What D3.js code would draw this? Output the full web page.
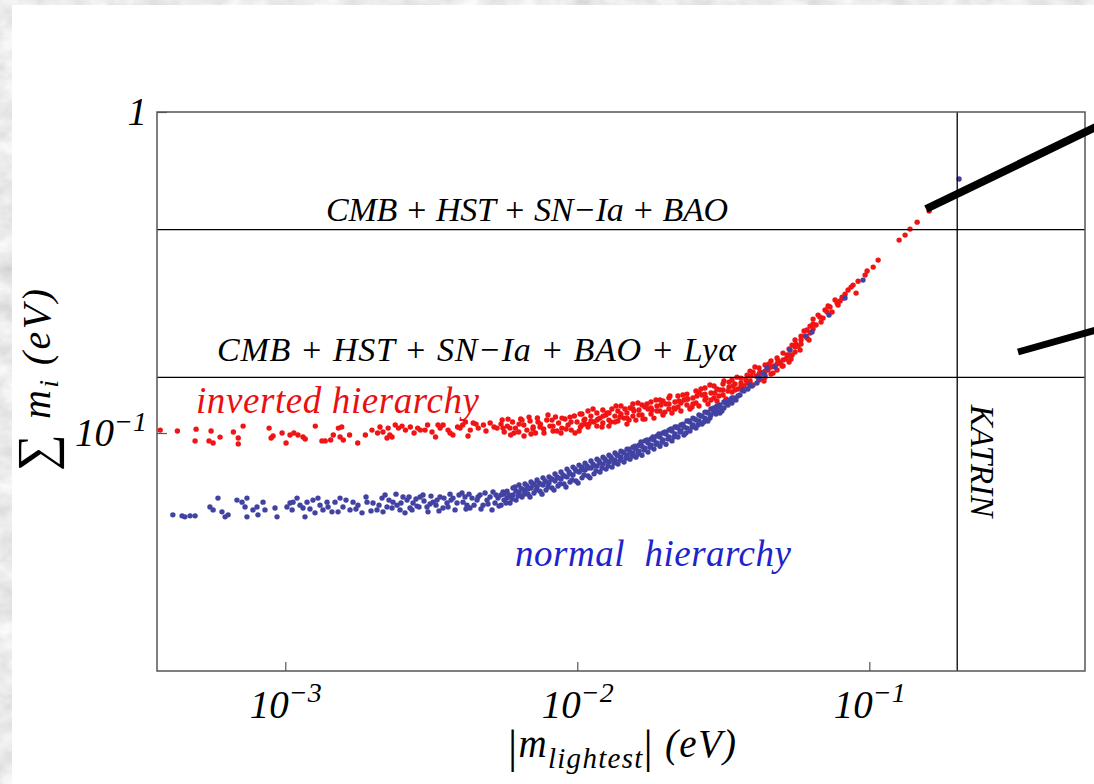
<!DOCTYPE html>
<html><head><meta charset="utf-8">
<script src="https://cdn.jsdelivr.net/npm/d3@7"></script>
<style>
html,body{margin:0;padding:0;background:#fff;overflow:hidden;}
svg{display:block;}
text{font-family:"Liberation Serif","Times New Roman",serif;font-style:italic;}
</style></head><body>
<svg id="chart" width="1094" height="784"></svg>
<script>
// ---------- data ----------
const xTicks = [1e-3, 1e-2, 1e-1];
const xTickLabels = [["10", "−3"], ["10", "−2"], ["10", "−1"]];
const yTicks = [0.1, 1];
const yTickLabels = [["10", "−1"], ["1", ""]];
const boundValues = [0.43, 0.149];
const boundLabels = ["CMB + HST + SN−Ia + BAO", "CMB + HST + SN−Ia + BAO + Lyα"];
const katrinBound = 0.2;
const katrinLabel = "KATRIN";
const seriesNames = ["inverted hierarchy", "normal  hierarchy"];

// inverted hierarchy: [m_lightest (eV), sum m_i (eV)]
const inverted = [
[0.000373,0.1021],[0.000427,0.1014],[0.000495,0.1028],[0.000491,0.0945],[0.000557,0.1014],[0.000548,0.0945],[0.000566,0.0931],[0.000598,0.0971],
[0.000664,0.1007],[0.00069,0.0965],[0.00069,0.0925],[0.000717,0.1051],[0.00088,0.1036],[0.000894,0.0965],[0.000908,0.0979],[0.000975,0.1],
[0.001006,0.0931],[0.001038,0.0986],[0.00107,0.1],[0.001105,0.0986],[0.00115,0.0972],[0.00117,0.0958],[0.001267,0.1051],[0.001335,0.0945],
[0.00137,0.0945],[0.00143,0.0951],[0.00146,0.0986],[0.00152,0.1036],[0.00156,0.1044],[0.00154,0.0972],[0.00158,0.0951],[0.00166,0.0986],
[0.00177,0.0931],[0.00188,0.0986],[0.00207,0.1],[0.00211,0.1044],[0.00216,0.1007],[0.00223,0.0965],[0.00228,0.0986],[0.00225,0.1036],
[0.00238,0.1059],[0.00244,0.1036],[0.00258,0.1021],[0.00268,0.1044],[0.00284,0.1036],[0.0029,0.1021],[0.00307,0.1059],[0.00318,0.1007],
[0.00327,0.0972],[0.00339,0.1036],[0.00347,0.1059],[0.00361,0.1021],[0.00375,0.0986],[0.00389,0.1044],[0.00405,0.1059],[0.00414,0.1082],
[0.0043,0.1021],[0.0044,0.1074],[0.00458,0.1036],[0.00477,0.1059],[0.00503,0.1074],[0.00531,0.1036],
[0.001981,0.1021],[0.00232,0.0972],[0.00251,0.1051],[0.00276,0.1],[0.00301,0.1021],[0.003334,0.1059],[0.003665,0.1],[0.003966,0.1036],
[0.004224,0.0979],[0.004499,0.1066],[0.004868,0.1014],[0.005186,0.1044],
[0.00553,0.1098],[0.00562,0.1007],[0.00576,0.1051],[0.00591,0.0986],[0.006,0.1082],[0.00614,0.1036],[0.0063,0.1007],[0.0064,0.1106],
[0.00656,0.1059],[0.00672,0.1021],[0.00689,0.109],[0.00706,0.1044],[0.00719,0.1],[0.0073,0.1114],[0.00748,0.1066],[0.00767,0.1029],
[0.00786,0.1098],[0.00806,0.1051],[0.00826,0.1014],[0.00842,0.1122],[0.00863,0.1074],[0.00885,0.1036],[0.00907,0.1106],[0.0093,0.1059],
[0.00953,0.1021],[0.00977,0.113],[0.00998,0.1082],[0.01025,0.1044],
[0.005567,0.1036],[0.00579,0.1105],[0.006071,0.1],[0.006315,0.1066],[0.006569,0.0979],[0.006833,0.1121],[0.007052,0.1029],[0.007335,0.1082],
[0.00769,0.1],[0.007937,0.1138],[0.008256,0.1051],[0.00852,0.1014],[0.008862,0.1113],[0.009146,0.1029],[0.009516,0.1082],[0.00982,0.1],
[0.00548,0.1066],[0.005883,0.1036],[0.006466,0.1097],[0.006942,0.0993],[0.007452,0.1044],[0.008191,0.1097],[0.008793,0.1],[0.009441,0.1121],
[0.01014,0.1014],
[0.01037,0.1059],[0.01037,0.1146],[0.01062,0.1105],[0.01088,0.1044],[0.01088,0.1171],[0.01113,0.1129],[0.0114,0.1082],[0.01167,0.1154],
[0.01167,0.1051],[0.01195,0.1113],[0.01223,0.1179],[0.01223,0.1074],[0.01253,0.1138],[0.01283,0.1097],[0.01283,0.1051],[0.01314,0.1188],
[0.01345,0.1129],[0.01377,0.109],[0.01377,0.1171],[0.01411,0.1214],[0.01445,0.1113],[0.01479,0.1154],[0.01479,0.1066],[0.01515,0.1197],
[0.0155,0.1129],[0.0155,0.1231],[0.01587,0.1097],[0.01626,0.1179],[0.01665,0.1222],[0.01665,0.1138],[0.01705,0.1105],[0.01746,0.1188],
[0.01788,0.1249],[0.01788,0.1146],[0.0183,0.1113],[0.01874,0.1214],[0.01919,0.1171],[0.01919,0.1267],[0.01965,0.1138],[0.02012,0.1231],
[0.0206,0.1188],[0.0206,0.1285],[0.02109,0.1154],[0.0216,0.1249],[0.02212,0.1205],[0.02212,0.1304],[0.02264,0.1171],[0.02319,0.1267],
[0.02374,0.1222],[0.02374,0.1322],[0.02431,0.1188],[0.02489,0.1285],[0.02549,0.1351],[0.02549,0.124],[0.0261,0.1214],[0.02673,0.1313],
[0.02737,0.1381],[0.02737,0.1267],[0.02803,0.1231],[0.0287,0.1332],[0.02939,0.1401],[0.02939,0.1285],[0.03009,0.1258],[0.03081,0.1361],
[0.03155,0.1421],[0.03155,0.1313],[0.0323,0.1276],[0.03308,0.1391],[0.03387,0.1462],[0.03387,0.1342],[0.03468,0.1421],[0.03551,0.1371],
[0.03636,0.1482],[0.03636,0.1431],[0.03723,0.1401],[0.03813,0.1515],[0.03904,0.1452],[0.03904,0.1559],[0.03997,0.1411],[0.04093,0.1504],
[0.04191,0.1594],[0.04191,0.1462],[0.04291,0.1537],[0.04394,0.1628],[0.04394,0.1493],[0.04499,0.1571],[0.04607,0.1676],[0.04607,0.1526],
[0.04717,0.1617],[0.04831,0.1712],[0.04831,0.1571],[0.04946,0.1652],[0.05065,0.1774],[0.05065,0.1617],[0.05187,0.17],[0.05311,0.1826],
[0.05311,0.1664],[0.05438,0.1879],[0.05438,0.1749],[0.05568,0.1948],[0.05568,0.1787],[0.05702,0.1865],[0.05837,0.2004],[0.05837,0.1892],
[0.05977,0.2078],[0.06121,0.1976],[0.06267,0.2153],[0.06267,0.2048],[0.06418,0.2264],[0.06418,0.2108],[0.06676,0.233],[0.06836,0.2216],
[0.07055,0.2416],[0.07224,0.2486],[0.07455,0.2381],[0.07634,0.2595],[0.07817,0.2504],[0.08068,0.2651],[0.08261,0.2708],[0.08459,0.2788],
[0.08799,0.2889],[0.09153,0.297],[0.09673,0.3104],[0.09827,0.3195],[0.1031,0.3287],[0.1072,0.3457],[0.1265,0.399],[0.1326,0.4135],
[0.1379,0.4317],[0.1458,0.4538],[0.1603,0.4912],
[0.01022,0.1146],[0.01054,0.1097],[0.01097,0.1066],[0.01132,0.1188],[0.01177,0.1105],[0.01215,0.1044],[0.01264,0.1154],[0.01304,0.1082],
[0.01357,0.1214],[0.014,0.1121],[0.01456,0.1188],[0.01504,0.1097],[0.01563,0.1171],[0.01613,0.124],[0.01678,0.1105],[0.01732,0.1231],
[0.01802,0.1179],[0.01859,0.1267],[0.01934,0.1222],[0.01996,0.1162],[0.02076,0.1304],[0.02143,0.1197],[0.02229,0.1258],[0.023,0.1313],
[0.02393,0.1276],[0.0247,0.1205],[0.02569,0.1304],[0.02652,0.1371],[0.02758,0.1285],[0.02846,0.1411],[0.0296,0.1332],[0.03055,0.1304],
[0.03178,0.1452],[0.0328,0.1351],[0.03412,0.1401],[0.03522,0.1493],[0.03663,0.1361],[0.0378,0.1462],[0.03932,0.1504],[0.04058,0.1605],
[0.04222,0.1548],[0.04357,0.1452],[0.04533,0.164],[0.0468,0.1537],[0.04869,0.1676],[0.05026,0.1617],[0.05228,0.1749],[0.05394,0.17],
[0.05612,0.1892],[0.05792,0.1813],[0.06025,0.2004],[0.06216,0.1948],[0.06572,0.2169],[0.06944,0.228],[0.07335,0.2468],[0.07755,0.254],
[0.08126,0.2632],[0.08661,0.2848],[0.0901,0.2728],
[0.01063,0.1066],[0.01114,0.109],[0.01168,0.1097],[0.01225,0.1129],[0.01284,0.1154],[0.01346,0.1082],[0.01411,0.1146],[0.0148,0.1113],
[0.01551,0.1188],[0.01626,0.1138],[0.01705,0.1205],[0.01788,0.1197],[0.01874,0.1171],[0.01965,0.1258],[0.0206,0.1231],[0.0216,0.1188],
[0.02264,0.124],[0.02374,0.1276],[0.02489,0.1231],[0.0261,0.1332],[0.02736,0.1322],[0.02868,0.1267],[0.03007,0.1371],[0.03155,0.1361],
[0.03308,0.1441],[0.03468,0.1361],[0.03636,0.1401],[0.03813,0.1431],[0.03997,0.1548],[0.04191,0.1526],[0.04394,0.1559],[0.04607,0.1605],
[0.04831,0.164],[0.05065,0.1688],[0.05311,0.1749],[0.05568,0.1852],[0.05837,0.1948],[0.06121,0.2093],[0.06418,0.2185],[0.06782,0.2296],
[0.07167,0.2381],[0.07941,0.2577]
];

// normal hierarchy: [m_lightest (eV), sum m_i (eV)]
const normal = [
[0.000412,0.0556],[0.000443,0.0552],[0.000453,0.0548],[0.000472,0.0552],[0.000491,0.0552],[0.000552,0.0588],[0.000566,0.0576],[0.000588,0.0627],
[0.000607,0.0568],[0.000622,0.0548],[0.000637,0.0556],[0.000683,0.0618],[0.000711,0.0609],[0.000739,0.0627],[0.000728,0.0588],[0.000739,0.0548],
[0.000775,0.0576],[0.0008,0.0588],[0.000806,0.0556],[0.000852,0.0576],[0.000839,0.0609],[0.000922,0.0584],[0.000937,0.0548],[0.001013,0.0588],
[0.001038,0.0605],[0.001063,0.0609],[0.001097,0.0627],[0.00115,0.0584],[0.001168,0.0548],[0.001187,0.0609],[0.001244,0.0618],[0.001264,0.0564],
[0.001315,0.0596],[0.001346,0.0576],[0.00139,0.0609],[0.001445,0.0568],[0.00148,0.0609],[0.00154,0.0627],[0.001576,0.0588],[0.001666,0.0576],
[0.001706,0.0609],[0.001774,0.0596],[0.001831,0.0564],[0.001905,0.0609],[0.001997,0.0605],[0.002061,0.0576],[0.002144,0.0627],[0.002196,0.0641],
[0.001055,0.0576],[0.001123,0.0596],[0.001215,0.058],[0.001294,0.0627],[0.001401,0.0588],[0.001516,0.0568],[0.001614,0.0618],[0.001746,0.058],
[0.00189,0.0632],[0.001966,0.0572],[0.002094,0.0596],
[0.00223,0.0588],[0.002338,0.0609],[0.002413,0.0596],[0.002471,0.0576],[0.00253,0.0632],[0.002611,0.0618],[0.002674,0.0584],[0.002738,0.0605],
[0.002825,0.0592],[0.002893,0.0632],[0.002962,0.0641],[0.003057,0.0588],[0.00313,0.0601],[0.003205,0.0609],[0.003308,0.0618],[0.003387,0.0632],
[0.003468,0.0584],[0.00358,0.0605],[0.003665,0.0645],[0.003753,0.0627],[0.003873,0.0605],[0.004029,0.065],[0.004125,0.0632],[0.004191,0.0596],
[0.004291,0.0584],[0.00436,0.0627],[0.004535,0.0618],[0.004644,0.0641],[0.004755,0.0596],[0.004907,0.0618],[0.005025,0.0632],[0.005145,0.0655],
[0.005227,0.0605],[0.005352,0.0627],
[0.002161,0.0568],[0.002265,0.0618],[0.00232,0.0584],[0.002394,0.0645],[0.00249,0.0605],[0.00257,0.0564],[0.002653,0.0632],[0.002716,0.0576],
[0.002803,0.0623],[0.00287,0.0588],[0.002985,0.0614],[0.003081,0.0568],[0.003155,0.0636],[0.003282,0.0596],[0.00336,0.0572],[0.003495,0.0627],
[0.003608,0.0588],[0.003694,0.0618],[0.003813,0.0576],[0.003935,0.0641],[0.004061,0.0609],[0.004158,0.058],[0.004257,0.0645],[0.004429,0.0596],
[0.004571,0.0632],[0.004681,0.058],[0.004831,0.065],[0.004946,0.0601],[0.005104,0.0576],[0.005268,0.0641],[0.005394,0.0592],
[0.00548,0.0641],[0.00548,0.0596],[0.005611,0.0618],[0.005745,0.0659],[0.005745,0.0627],[0.005883,0.0605],[0.006023,0.0674],[0.006023,0.0641],
[0.006168,0.0618],[0.006315,0.0689],[0.006315,0.065],[0.006466,0.0632],[0.006621,0.0694],[0.006621,0.0664],[0.006779,0.0645],[0.006942,0.0704],
[0.006942,0.0674],[0.007108,0.065],[0.007278,0.0714],[0.007278,0.0679],[0.007452,0.0659],[0.00763,0.0725],[0.00763,0.0689],[0.007813,0.0664],
[0.008,0.073],[0.008,0.0699],[0.008191,0.0674],[0.008387,0.0746],[0.008387,0.0709],[0.008588,0.0684],[0.008793,0.0756],[0.008793,0.0719],
[0.009003,0.0694],[0.009219,0.0772],[0.009219,0.073],[0.009441,0.0704],[0.009666,0.0783],[0.009666,0.074],[0.009898,0.0709],[0.01014,0.0794],
[0.01014,0.0756],[0.01038,0.0725],[0.01063,0.0806],[0.01063,0.0767],[0.01088,0.0735],[0.01114,0.0818],[0.01114,0.0778],[0.01141,0.0746],
[0.01168,0.0829],[0.01168,0.0789],[0.01196,0.0756],[0.01225,0.0841],[0.01225,0.08],[0.01254,0.0772],[0.01284,0.0853],[0.01284,0.0812],
[0.01315,0.0783],[0.01346,0.0866],[0.01346,0.0823],[0.01378,0.08],[0.01411,0.0878],[0.01411,0.0841],[0.01445,0.0812],[0.0148,0.0891],
[0.0148,0.0853],[0.01515,0.0829],[0.01551,0.0903],[0.01551,0.0866],[0.01588,0.0841],[0.01626,0.0916],[0.01626,0.0878],[0.01665,0.0853],
[0.01705,0.0945],[0.01705,0.0897],[0.01746,0.0872],[0.01788,0.0958],[0.01788,0.0916],[0.0183,0.0891],[0.01874,0.0979],[0.01874,0.0931],
[0.01919,0.0909],[0.01965,0.1],[0.01965,0.0951],[0.02012,0.0922],[0.0206,0.1021],[0.0206,0.0972],[0.02109,0.0945],[0.0216,0.1044],
[0.0216,0.0993],[0.02212,0.0972],[0.02264,0.1059],[0.02264,0.1014],[0.02319,0.0986],[0.02374,0.109],[0.02374,0.1036],[0.02431,0.1014],
[0.02489,0.1113],[0.02489,0.1059],[0.02549,0.1036],[0.0261,0.1138],[0.0261,0.109],[0.02672,0.1066],[0.02736,0.1162],[0.02736,0.1113],
[0.02801,0.109],[0.02868,0.1188],[0.02868,0.1138],[0.02937,0.1162],[0.03007,0.1214],[0.03007,0.1179],[0.03079,0.1154],[0.03178,0.1249],
[0.03178,0.1197],[0.0328,0.1222],[0.03385,0.1285],[0.03385,0.124],[0.03494,0.1267],[0.03606,0.1313],[0.03692,0.1361],[0.03721,0.1351],
[0.0384,0.1371],[0.03901,0.1411],[0.03964,0.1401],[0.04123,0.1431],[0.04156,0.1493],[0.04222,0.1482],[0.04323,0.1537],[0.04392,0.1515],
[0.04462,0.1594],[0.04755,0.1605],[0.05352,0.1813],[0.0607,0.2004],[0.06365,0.2063],[0.07278,0.233],[0.08256,0.2633],[0.09515,0.2995],
[0.2029,0.6185],
[0.005567,0.0655],[0.0057,0.0605],[0.005836,0.0641],[0.005977,0.0623],[0.006119,0.0679],[0.006266,0.0636],[0.006415,0.0669],[0.006569,0.0645],
[0.006726,0.0684],[0.006887,0.0632],[0.007052,0.0689],[0.007221,0.0664],[0.007394,0.0699],[0.00757,0.0645],[0.007751,0.0709],[0.007937,0.0679],
[0.008127,0.0719],[0.008321,0.0664],[0.00852,0.073],[0.008724,0.0694],[0.008933,0.074],[0.009146,0.0679],[0.009366,0.0756],[0.009591,0.0714],
[0.00982,0.0772],[0.01006,0.0699],[0.0103,0.0767],[0.01054,0.074],[0.0108,0.0789],[0.01105,0.0725],[0.01132,0.08],[0.01159,0.0762],
[0.01187,0.0818],[0.01215,0.0778],[0.01244,0.0829],[0.01274,0.0789],[0.01304,0.0841],[0.01336,0.0806],[0.01367,0.0853],[0.014,0.0823],
[0.01433,0.0872],[0.01468,0.0835],[0.01504,0.0891],[0.01539,0.0848],[0.01576,0.0909],[0.01613,0.086],[0.01652,0.0938],[0.01691,0.0885],
[0.01732,0.0951],[0.01774,0.0903],[0.01816,0.0972],[0.01859,0.0922],[0.01904,0.0993],[0.0195,0.0938],[0.01996,0.1007],[0.02044,0.0958],
[0.02093,0.1029],[0.02143,0.0972],[0.02194,0.1044],[0.02247,0.1007],[0.023,0.1066],[0.02356,0.1],[0.02412,0.109],[0.0247,0.1044],
[0.02529,0.1105],[0.02589,0.1059],[0.02652,0.1129],[0.02714,0.1082],[0.0278,0.1162],[0.02846,0.1113],[0.02914,0.1188],[0.02984,0.1146],
[0.03055,0.1205],[0.03128,0.1171],[0.03229,0.124],[0.03332,0.1267],[0.03439,0.1285],[0.03549,0.1304],
[0.005611,0.0645],[0.005883,0.0636],[0.006168,0.0659],[0.006466,0.0669],[0.006779,0.0669],[0.007108,0.0694],[0.007452,0.0694],[0.007813,0.0704],
[0.008191,0.0719],[0.008588,0.0725],[0.009003,0.0735],[0.009441,0.0746],[0.009898,0.0762],[0.01038,0.0783],[0.01088,0.0778],[0.01141,0.0789],
[0.01196,0.0806],[0.01254,0.0818],[0.01315,0.0829],[0.01378,0.0853],[0.01445,0.0866],[0.01515,0.0872],[0.01588,0.0891],[0.01665,0.0909],
[0.01746,0.0931],[0.0183,0.0951],[0.01919,0.0972],[0.02012,0.0993],[0.02109,0.1014],[0.02212,0.1036],[0.02319,0.1044],[0.02431,0.1082],
[0.02549,0.1097],[0.02672,0.1129],[0.02801,0.1154],[0.02937,0.1197],[0.03079,0.1222],[0.0328,0.1249]
];

// ---------- drawing ----------
const W = 1094, H = 784;
const plot = {left: 157, right: 1085, top: 112, bottom: 671};

const x = d3.scaleLog().domain([3.636e-4, 0.5478]).range([plot.left, plot.right]);
const y = d3.scaleLog().domain([0.01814, 1]).range([plot.bottom, plot.top]);

const svg = d3.select("#chart");

// textured border background
const defs = svg.append("defs");
const f = defs.append("filter").attr("id", "marble").attr("x", 0).attr("y", 0).attr("width", "100%").attr("height", "100%");
f.append("feTurbulence").attr("type", "fractalNoise").attr("baseFrequency", "0.035 0.05").attr("numOctaves", 4).attr("seed", 7);
f.append("feColorMatrix").attr("type", "matrix")
  .attr("values", "0.45 0 0 0 0.6  0.45 0 0 0 0.6  0.45 0 0 0 0.6  0 0 0 0 1");
svg.append("rect").attr("width", W).attr("height", H).attr("fill", "#ddd").attr("filter", "url(#marble)");
svg.append("rect").attr("x", 12).attr("y", 5).attr("width", W - 12).attr("height", H - 5).attr("fill", "#fff");

// points
svg.append("g").selectAll("circle").data(inverted).join("circle")
  .attr("cx", d => x(d[0])).attr("cy", d => y(d[1])).attr("r", 2.7).attr("fill", "#f01414");
svg.append("g").selectAll("circle").data(normal).join("circle")
  .attr("cx", d => x(d[0])).attr("cy", d => y(d[1])).attr("r", 2.7).attr("fill", "#4242a2");

// bound lines
svg.append("g").selectAll("line").data(boundValues).join("line")
  .attr("x1", plot.left).attr("x2", plot.right)
  .attr("y1", d => y(d)).attr("y2", d => y(d))
  .attr("stroke", "#000").attr("stroke-width", 1.3);
svg.append("line")
  .attr("x1", x(katrinBound)).attr("x2", x(katrinBound))
  .attr("y1", plot.top).attr("y2", plot.bottom)
  .attr("stroke", "#000").attr("stroke-width", 1.3);

// frame
svg.append("rect").attr("x", plot.left).attr("y", plot.top)
  .attr("width", plot.right - plot.left).attr("height", plot.bottom - plot.top)
  .attr("fill", "none").attr("stroke", "#555").attr("stroke-width", 1.5);

// axes
const gx = svg.append("g").attr("transform", `translate(0,${plot.bottom})`)
  .call(d3.axisBottom(x).tickValues(xTicks).tickSizeInner(-9).tickSizeOuter(0).tickPadding(19));
const gy = svg.append("g").attr("transform", `translate(${plot.left},0)`)
  .call(d3.axisLeft(y).tickValues(yTicks).tickSizeInner(-10).tickSizeOuter(0).tickPadding(10));
[gx, gy].forEach(g => {
  g.attr("font-family", null).attr("font-size", 39);
  g.select(".domain").remove();
  g.selectAll(".tick line").attr("stroke", "#555").attr("stroke-width", 1.2);
  g.selectAll(".tick text").attr("fill", "#000");
});
gx.selectAll(".tick text").text(null).each(function(d, i) {
  const t = d3.select(this);
  t.append("tspan").text(xTickLabels[i][0]);
  t.append("tspan").attr("dy", -16).attr("font-size", 28).text(xTickLabels[i][1]);
});
gy.selectAll(".tick text").attr("dy", "0.33em").text(null).each(function(d, i) {
  const t = d3.select(this);
  t.append("tspan").text(yTickLabels[i][0]);
  if (yTickLabels[i][1]) t.append("tspan").attr("dy", -15).attr("font-size", 28).text(yTickLabels[i][1]);
});

// bound labels
svg.append("text").attr("x", 326).attr("y", y(boundValues[0]) - 9)
  .attr("font-size", 34).attr("textLength", 402).attr("lengthAdjust", "spacing").text(boundLabels[0]);
svg.append("text").attr("x", 217).attr("y", y(boundValues[1]) - 16)
  .attr("font-size", 34).attr("textLength", 519).attr("lengthAdjust", "spacing").text(boundLabels[1]);

// KATRIN label
svg.append("text").attr("transform", `translate(${x(katrinBound) + 14},461) rotate(90)`)
  .attr("text-anchor", "middle").attr("font-size", 33).text(katrinLabel);

// series labels
svg.append("text").attr("x", 196).attr("y", 413).attr("font-size", 37).attr("fill", "#e81010")
  .attr("textLength", 283).attr("lengthAdjust", "spacing").style("white-space", "pre").text(seriesNames[0]);
svg.append("text").attr("x", 515).attr("y", 566).attr("font-size", 37).attr("fill", "#2222cc")
  .attr("textLength", 276).attr("lengthAdjust", "spacing").style("white-space", "pre").text(seriesNames[1]);

// x axis title
const xt = svg.append("text").attr("x", 508).attr("y", 757).attr("font-size", 39)
  .attr("textLength", 228).attr("lengthAdjust", "spacing");
xt.append("tspan").style("font-style", "normal").attr("font-size", 46).attr("dy", 5).text("|");
xt.append("tspan").attr("dy", -5).text("m");
xt.append("tspan").attr("font-size", 29).attr("dy", 11).text("lightest");
xt.append("tspan").style("font-style", "normal").attr("font-size", 46).attr("dy", -6).text("|");
xt.append("tspan").attr("dy", -5).style("white-space", "pre").text(" (eV)");

// y axis title
const yt = svg.append("text").attr("transform", "translate(50,471) rotate(-90)").attr("font-size", 40)
  .attr("textLength", 182).attr("lengthAdjust", "spacing");
yt.append("tspan").style("font-style", "normal").attr("font-size", 52).attr("dy", 3).text("∑");
yt.append("tspan").attr("dy", -3).style("white-space", "pre").text(" m");
yt.append("tspan").attr("font-size", 28).attr("dy", 8).text("i");
yt.append("tspan").attr("dy", -8).style("white-space", "pre").text(" (eV)");

// decorative pointer strokes from the slide
svg.append("line").attr("x1", 926).attr("y1", 209).attr("x2", 1100).attr("y2", 125)
  .attr("stroke", "#000").attr("stroke-width", 8);
svg.append("line").attr("x1", 1018).attr("y1", 352).attr("x2", 1100).attr("y2", 329)
  .attr("stroke", "#000").attr("stroke-width", 7);
</script>
</body></html>
